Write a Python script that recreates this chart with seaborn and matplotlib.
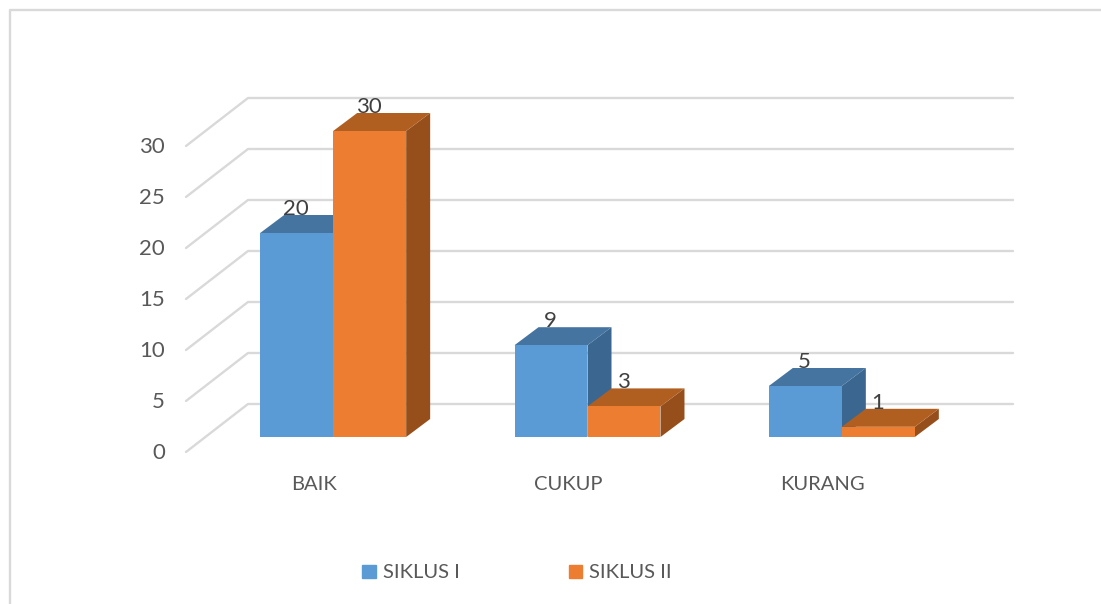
import matplotlib
matplotlib.use("Agg")
import matplotlib.pyplot as plt
from matplotlib.lines import Line2D
from matplotlib.patches import Polygon
import pandas as pd
import seaborn as sns

categories = ["BAIK", "CUKUP", "KURANG"]
siklus_1 = [20, 9, 5]
siklus_2 = [30, 3, 1]
series_names = ["SIKLUS I", "SIKLUS II"]
y_ticks = [0, 5, 10, 15, 20, 25, 30]

W, H = 1101, 604
front_cols = ["#5B9BD5", "#ED7D31"]
top_cols = ["#44749F", "#B15F21"]
side_cols = ["#3A6690", "#964F1B"]
grid_col = "#D9D9D9"
DEPTH_X, DEPTH_Y = 24, 18

sns.set_theme(style="white")
plt.rcParams["font.family"] = ["Lato", "DejaVu Sans"]

df = pd.DataFrame({
    "kategori": categories * 2,
    "siklus": [series_names[0]] * 3 + [series_names[1]] * 3,
    "nilai": siklus_1 + siklus_2,
})

fig = plt.figure(figsize=(W / 100, H / 100), dpi=100, facecolor="white")
ax = fig.add_axes([206 / W, (H - 437) / H, 763 / W, 306 / H])

sns.barplot(data=df, x="kategori", y="nilai", hue="siklus", palette=front_cols,
            width=0.574, gap=0, saturation=1, errorbar=None, ax=ax, legend=False,
            linewidth=0, edgecolor="none")
ax.set_xlim(-0.5, 2.5)
ax.set_ylim(0, 30)
ax.set_axis_off()


def px(points, color):
    return Polygon(points, closed=True, transform=None, clip_on=False,
                   facecolor=color, edgecolor="none", linewidth=0)


# grid: side wall + back wall, taken from the y scale
for v in y_ticks:
    _, y0 = ax.transData.transform((0, v))
    fig.add_artist(Line2D([186 / W, 248 / W, 1013 / W],
                          [(y0 - 15) / H, (y0 + 33) / H, (y0 + 33) / H],
                          color=grid_col, lw=1.7, zorder=0))
    ax.annotate(str(v), xy=(0, v), xycoords=("axes fraction", "data"),
                xytext=(-41, -16), textcoords="offset pixels", ha="right", va="center",
                fontsize=16, color="#595959", annotation_clip=False)

# 3d faces from the bars seaborn drew
for j, cont in enumerate(ax.containers):
    for bar in cont:
        x0, y0 = ax.transData.transform((bar.get_x(), 0))
        x1, y1 = ax.transData.transform((bar.get_x() + bar.get_width(), bar.get_height()))
        top = px([(x0, y1), (x1, y1), (x1 + DEPTH_X, y1 + DEPTH_Y), (x0 + DEPTH_X, y1 + DEPTH_Y)], top_cols[j])
        side = px([(x1, y0), (x1 + DEPTH_X, y0 + DEPTH_Y), (x1 + DEPTH_X, y1 + DEPTH_Y), (x1, y1)], side_cols[j])
        top.set_zorder(3 + 2 * j)
        side.set_zorder(3 + 2 * j)
        ax.add_artist(side)
        ax.add_artist(top)
        bar.set_zorder(4 + 2 * j)
        ax.annotate(f"{bar.get_height():.0f}", xy=(bar.get_x() + bar.get_width() / 2, bar.get_height()),
                    xytext=(-1, 24), textcoords="offset pixels", ha="center", va="center",
                    fontsize=16, color="#404040", zorder=10, annotation_clip=False)

for i, name in enumerate(categories):
    ax.annotate(name, xy=(i, 0), xytext=(-19, -48), textcoords="offset pixels",
                ha="center", va="center", fontsize=14.5, color="#595959", annotation_clip=False)

# chart frame, only top and left show in the crop
fig.add_artist(Line2D([10 / W, 10 / W, 1], [0, (H - 10) / H, (H - 10) / H], color=grid_col, lw=1.7))

handles = [plt.Rectangle((0, 0), 1, 1, color=c) for c in front_cols]
fig.legend(handles, series_names, ncol=2, loc="center", bbox_to_anchor=(517 / W, (H - 573) / H),
           frameon=False, fontsize=14.5, labelcolor="#595959", handlelength=0.67, handleheight=0.67,
           handletextpad=0.35, columnspacing=5.4)

fig.savefig("out.png", dpi=100)
